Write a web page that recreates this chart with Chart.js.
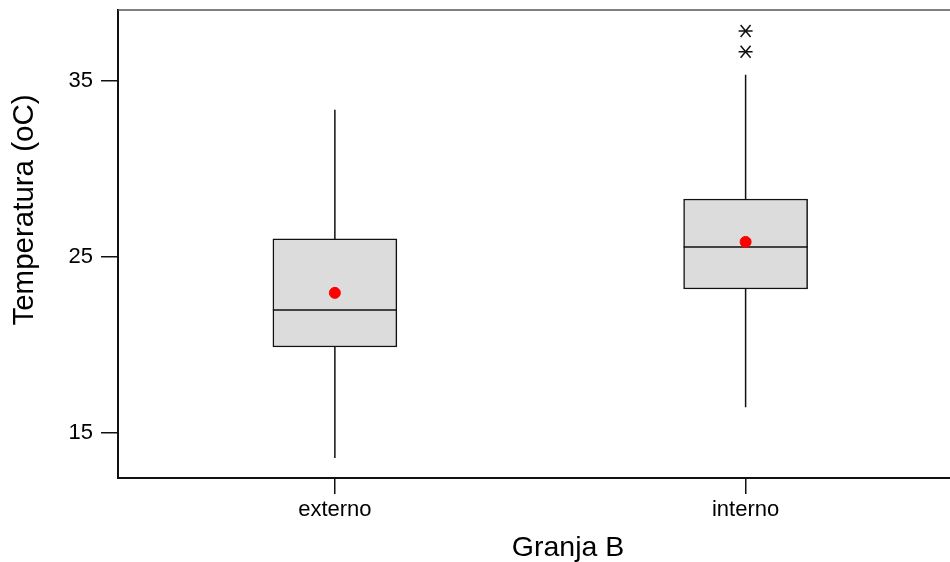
<!DOCTYPE html>
<html>
<head>
<meta charset="utf-8">
<script src="https://cdn.jsdelivr.net/npm/chart.js@4/dist/chart.umd.min.js"></script>
<style>
html,body{margin:0;padding:0;background:#fff;overflow:hidden}
#wrap{width:950px;height:562px}
</style>
</head>
<body>
<div id="wrap"><canvas id="c" width="950" height="562"></canvas></div>
<script>
// Boxplot data
const categories=['externo','interno'];
const q1=[19.87,23.17];
const medians=[21.98,25.56];
const q3=[26.02,28.29];
const whiskerLow=[13.56,16.45];
const whiskerHigh=[33.36,35.35];
const means=[22.95,25.85];
const outliers=[[],[36.66,37.85]];
const yTicks=[15,25,35];
const yTitle='Temperatura (oC)';
const xTitle='Granja B';

const FONT='"Liberation Sans", Arial, sans-serif';

// whiskers, medians, outlier asterisks, frame lines, axis titles
const boxExtras={
  id:'boxExtras',
  afterDatasetDraw(chart,args){
    if(args.index!==0)return;
    const {ctx,scales:{x,y}}=chart;
    const meta=chart.getDatasetMeta(0);
    ctx.save();
    ctx.strokeStyle='#111';ctx.lineWidth=1.5;
    categories.forEach((_,i)=>{
      const cx=x.getPixelForValue(i+1);
      const half=meta.data[i].width/2;
      ctx.beginPath();
      ctx.moveTo(cx,y.getPixelForValue(q3[i]));ctx.lineTo(cx,y.getPixelForValue(whiskerHigh[i]));
      ctx.moveTo(cx,y.getPixelForValue(q1[i]));ctx.lineTo(cx,y.getPixelForValue(whiskerLow[i]));
      const my=y.getPixelForValue(medians[i]);
      ctx.moveTo(cx-half,my);ctx.lineTo(cx+half,my);
      ctx.stroke();
      outliers[i].forEach(v=>{
        const oy=y.getPixelForValue(v);
        ctx.beginPath();
        ctx.moveTo(cx-7,oy);ctx.lineTo(cx+7,oy);
        ctx.moveTo(cx-5,oy-6);ctx.lineTo(cx+5,oy+6);
        ctx.moveTo(cx-5,oy+6);ctx.lineTo(cx+5,oy-6);
        ctx.stroke();
      });
    });
    ctx.restore();
  },
  afterDraw(chart){
    const {ctx,chartArea:a,width}=chart;
    ctx.save();
    // frame runs off the right edge of the image
    ctx.strokeStyle='#555';ctx.lineWidth=1.5;
    ctx.beginPath();ctx.moveTo(a.left,a.top);ctx.lineTo(width,a.top);ctx.stroke();
    ctx.strokeStyle='#111';ctx.lineWidth=2;
    ctx.beginPath();ctx.moveTo(a.right-1,a.bottom);ctx.lineTo(width,a.bottom);ctx.stroke();
    // titles are off-centre in the original, so place them by hand
    ctx.fillStyle='#000';ctx.textAlign='center';ctx.textBaseline='middle';
    ctx.font='28.5px '+FONT;
    ctx.fillText(xTitle,568,548);
    ctx.translate(25,210);ctx.rotate(-Math.PI/2);
    ctx.font='29.5px '+FONT;
    ctx.fillText(yTitle,0,0);
    ctx.restore();
  }
};

new Chart(document.getElementById('c'),{
  type:'bar',
  data:{datasets:[
    {type:'bar',label:'box',data:categories.map((_,i)=>({x:i+1,y:[q1[i],q3[i]]})),
     backgroundColor:'#dcdcdc',borderColor:'#111',borderWidth:1.5,borderSkipped:false,barThickness:124,order:2},
    {type:'scatter',label:'mean',data:categories.map((_,i)=>({x:i+1,y:means[i]})),
     backgroundColor:'#ff0000',borderColor:'#ff0000',pointRadius:5.5,pointHoverRadius:5.5,order:1}
  ]},
  options:{
    responsive:false,animation:false,devicePixelRatio:1,
    layout:{padding:{top:10,right:0,left:0,bottom:0}},
    plugins:{legend:{display:false},tooltip:{enabled:false}},
    scales:{
      x:{type:'linear',min:0.472,max:2.4818,offset:false,
        afterBuildTicks:s=>{s.ticks=categories.map((_,i)=>({value:i+1}));},
        afterFit:s=>{s.height=84;s.paddingLeft=0;s.paddingRight=0;},
        grid:{drawOnChartArea:false,drawTicks:true,offset:false,tickLength:16,color:'#111',lineWidth:1.5},
        border:{display:true,color:'#111',width:2},
        ticks:{padding:3,color:'#000',font:{family:FONT,size:22},maxRotation:0,callback:v=>categories[v-1]||''},
        title:{display:false}},
      y:{type:'linear',min:12.42,max:39.04,
        afterBuildTicks:s=>{s.ticks=yTicks.map(v=>({value:v}));},
        afterFit:s=>{s.width=118;s.paddingTop=0;s.paddingBottom=0;},
        grid:{drawOnChartArea:false,drawTicks:true,tickLength:17,color:'#111',lineWidth:1.5},
        border:{display:true,color:'#111',width:2},
        ticks:{padding:8,color:'#000',font:{family:FONT,size:22}},
        title:{display:false}}
    }
  },
  plugins:[boxExtras]
});
</script>
</body>
</html>
